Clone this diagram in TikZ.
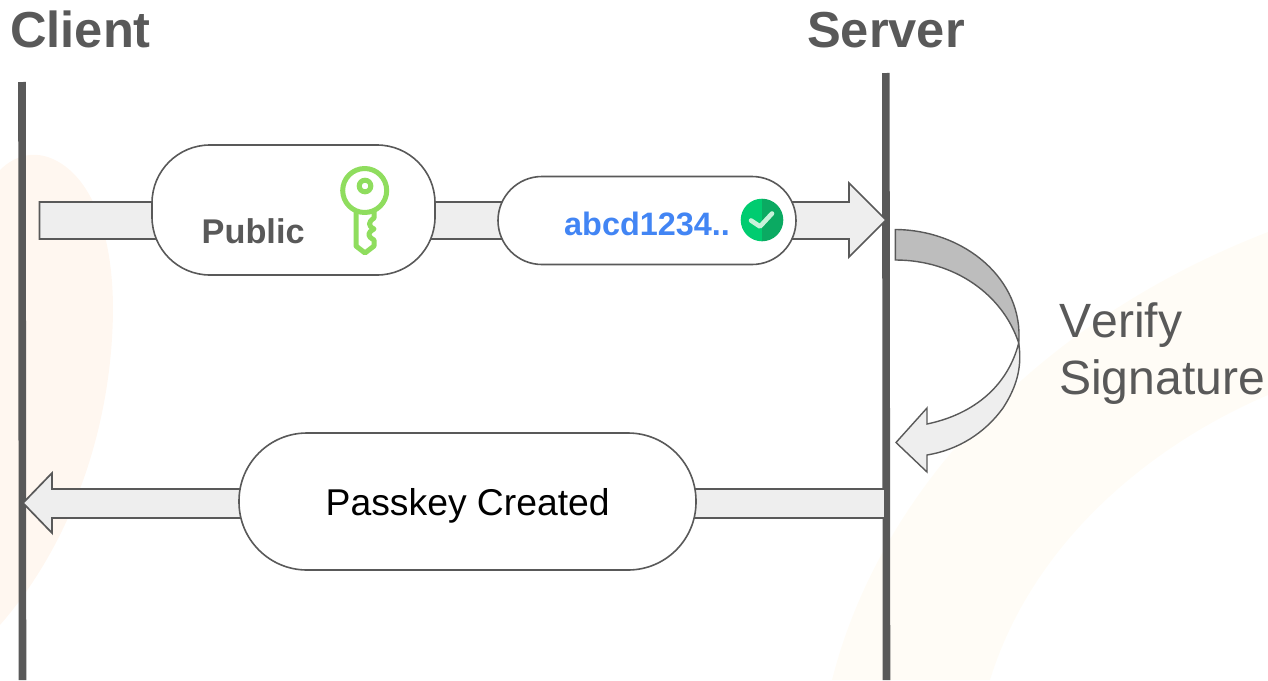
\documentclass[tikz,border=0pt]{standalone}
\usepackage{fontspec}
\setmainfont{Liberation Sans}
\definecolor{ink}{HTML}{595959}
\definecolor{lightfill}{HTML}{EEEEEE}
\definecolor{darkfill}{HTML}{BDBDBD}
\definecolor{blobl}{HTML}{FFF7F0}
\definecolor{blobr}{HTML}{FFFCF6}
\definecolor{keygreen}{HTML}{8FDD5E}
\definecolor{bluetext}{HTML}{4285F4}
\definecolor{checka}{HTML}{00CC70}
\definecolor{checkb}{HTML}{0BAA62}
\definecolor{checkm}{HTML}{C8F2DA}
\tikzset{
  lifeline/.style={line width=7.6pt,draw=ink},
  blockarrow/.style={draw=ink,line width=1.7pt,fill=lightfill,line join=miter},
  pill/.style={draw=ink,line width=1.6pt,fill=white},
  header/.style={text=ink,font=\fontsize{50.6}{60}\selectfont\bfseries,anchor=base west,inner sep=0pt},
  keyline/.style={draw=keygreen,line width=5pt,line join=round}
}
\begin{document}
\begin{tikzpicture}[x=1pt,y=-1pt]
\useasboundingbox (0,0) rectangle (1268,680);
% background washes
\fill[blobl] (0,170) .. controls (15,155) and (35,150) .. (55,160)
  .. controls (95,180) and (113,240) .. (113,310)
  .. controls (112,430) and (70,545) .. (0,625) -- cycle;
\fill[blobr] (832,680) .. controls (880,490) and (1040,320) .. (1268,232)
  -- (1268,395) .. controls (1140,450) and (1030,550) .. (990,680) -- cycle;
% lifelines
\coordinate (c1) at (22,82); \coordinate (c2) at (22.5,680);
\coordinate (s1) at (885.8,73); \coordinate (s2) at (886.5,680);
\draw[lifeline] (c1) -- (c2);
\draw[lifeline] (s1) -- (s2);
% headers
\node[header] (client) at (10,47) {Client};
\node[header] (server) at (807,47) {Server};
% public key arrow
\draw[blockarrow] (39.5,202) -- (849,202) -- (849,183) -- (886,220) -- (849,257) -- (849,239) -- (39.5,239) -- cycle;
% pills of first row
\draw[pill,rounded corners=58pt] (152,145) rectangle (435,275);
\coordinate (publicpill) at (293.5,210);
\draw[pill,rounded corners=44pt] (498,176.5) rectangle (796,264.5);
\coordinate (sigpill) at (647,220);
\node[text=ink,font=\fontsize{34.3}{40}\selectfont\bfseries,anchor=base west,inner sep=0pt] (public) at (201.5,243) {Public};
\node[text=bluetext,font=\fontsize{32.4}{38}\selectfont\bfseries,anchor=base west,inner sep=0pt] (sig) at (564,235.5) {abcd1234..};
% key icon
\draw[keyline] (364.7,190.5) circle (22);
\draw[draw=keygreen,line width=5pt] (365,186) circle (5.8);
\draw[keyline] (356,211) -- (356,246) -- (365,253) -- (374,246) -- (374,240)
  .. controls (367,236) and (367,233) .. (374,229)
  .. controls (368,226) and (368,222) .. (374,218) -- (374,211);
% check badge
\begin{scope}
\clip (762,220) circle (21.3);
\fill[checka] (740,198) rectangle (762,242);
\fill[checkb] (762,198) rectangle (784,242);
\end{scope}
\draw[checkm,line width=4.6pt,line cap=round,line join=round] (751,220.5) -- (760,226.5) -- (772,213.5);
% curved arrow
\draw[blockarrow,fill=lightfill,line width=1.4pt] (1018.7,343) .. controls (1022,365) and (1018,385) .. (1003,408)
  .. controls (985,433) and (958,450) .. (927,455) -- (927,472) -- (896,442.5) -- (927,408) -- (927,424)
  .. controls (975,414) and (1008,385) .. (1018.7,343) -- cycle;
\draw[blockarrow,fill=darkfill,line width=1.4pt] (895.3,229.5) .. controls (965,230) and (1024,280) .. (1018.7,343)
  .. controls (1003,295) and (955,260) .. (895.3,260) -- cycle;
\node[text=ink,font=\fontsize{48.1}{57}\selectfont\addfontfeatures{Kerning=Off},anchor=base west,inner sep=0pt] (verify) at (1059,337) {Verify};
\node[text=ink,font=\fontsize{48.1}{57}\selectfont,anchor=base west,inner sep=0pt] (signature) at (1059,394) {Signature};
% created arrow
\draw[blockarrow] (885,489) -- (52,489) -- (52,473) -- (23,503) -- (52,533) -- (52,518) -- (885,518) -- cycle;
\draw[pill,rounded corners=68pt] (239,433) rectangle (696,570);
\node[text=black,font=\fontsize{37.3}{44}\selectfont,anchor=base west,inner sep=0pt] (created) at (325.5,515) {Passkey Created};
\end{tikzpicture}
\end{document}
